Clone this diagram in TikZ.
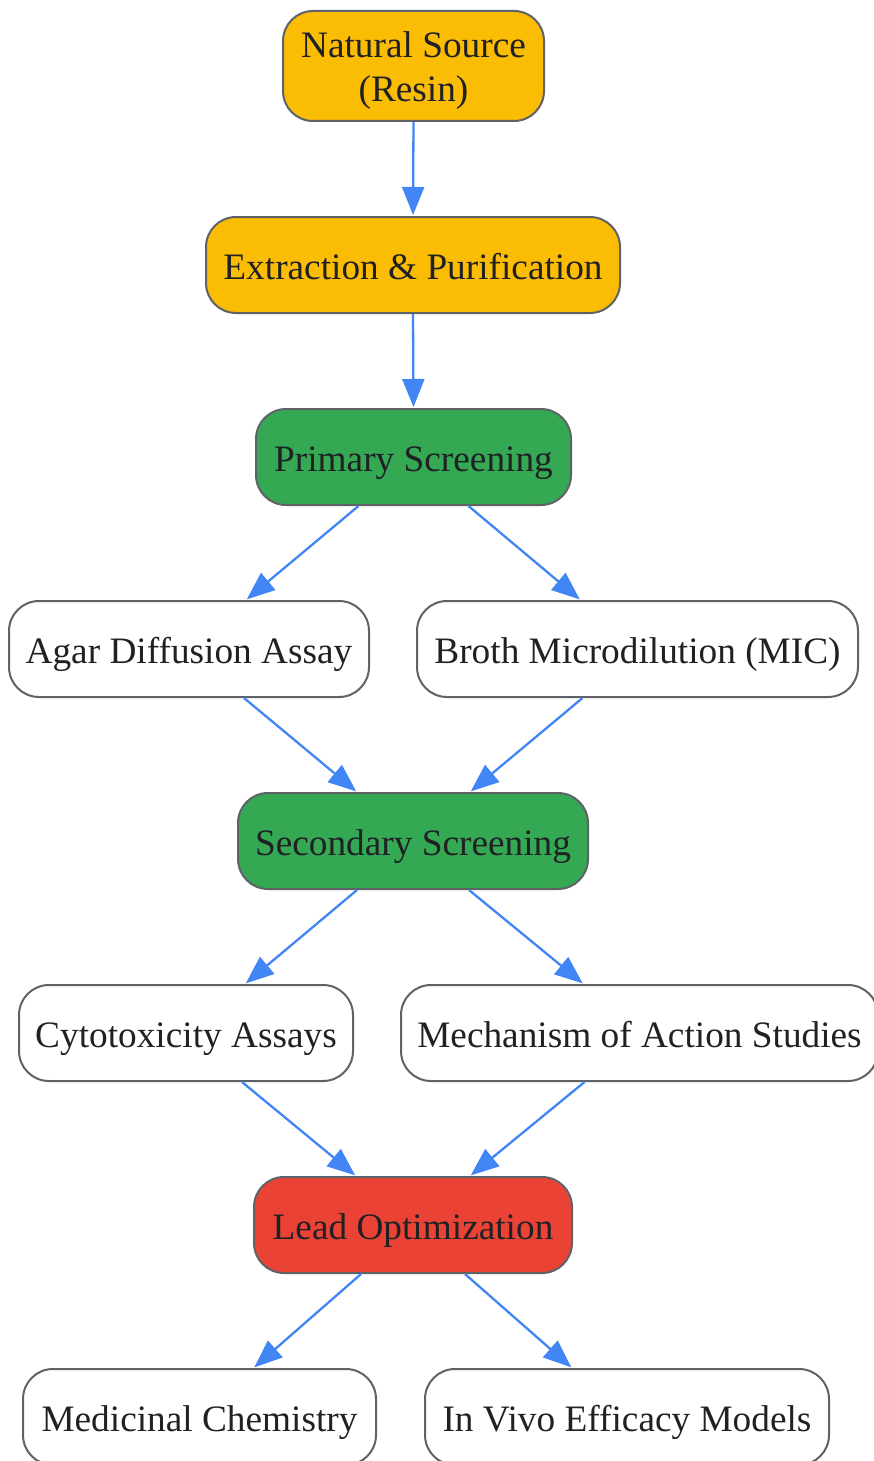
\documentclass[tikz,border=0pt]{standalone}
\usepackage{fontspec}
\setmainfont{Liberation Serif}
\usetikzlibrary{arrows.meta}
\definecolor{gyellow}{HTML}{FBBC04}
\definecolor{ggreen}{HTML}{34A853}
\definecolor{gred}{HTML}{EA4335}
\definecolor{gborder}{HTML}{5F6368}
\definecolor{gtext}{HTML}{202124}
\definecolor{garrow}{HTML}{4285F4}
\tikzset{
  box/.style={draw=gborder, line width=2pt, rounded corners=30pt, minimum height=96pt,
    inner sep=0pt, align=center, text=gtext, text height=29pt, text depth=0pt,
    font=\fontsize{37.3}{44}\selectfont},
  yellowbox/.style={box, fill=gyellow},
  greenbox/.style={box, fill=ggreen},
  redbox/.style={box, fill=gred},
  whitebox/.style={box, fill=white},
  conn/.style={draw=garrow, line width=2.3pt, -{Triangle[length=28pt,width=22pt]}, shorten >=1pt}
}
\begin{document}
\begin{tikzpicture}[x=1pt,y=-1pt]
\useasboundingbox[fill=white] (0,0) rectangle (873,1461);
\node[yellowbox, minimum width=261pt, minimum height=110pt, text height=72pt] (nat) at (413.5,66) {Natural Source\\(Resin)};
\node[yellowbox, minimum width=414pt] (ext) at (413,265) {Extraction \& Purification};
\node[greenbox, minimum width=315pt] (prim) at (413.5,457) {Primary Screening};
\node[whitebox, minimum width=360pt] (agar) at (189,649) {Agar Diffusion Assay};
\node[whitebox, minimum width=441pt] (broth) at (637.5,649) {Broth Microdilution (MIC)};
\node[greenbox, minimum width=350pt] (sec) at (413,841) {Secondary Screening};
\node[whitebox, minimum width=334pt] (cyto) at (186,1033) {Cytotoxicity Assays};
\node[whitebox, minimum width=477pt] (mech) at (639.5,1033) {Mechanism of Action Studies};
\node[redbox, minimum width=318pt] (lead) at (413,1225) {Lead Optimization};
\node[whitebox, minimum width=353pt] (med) at (199.5,1417) {Medicinal Chemistry};
\node[whitebox, minimum width=404pt] (vivo) at (627,1417) {In Vivo Efficacy Models};

\draw[conn] (nat.south) -- (ext.north);
\draw[conn] (ext.south) -- (prim.north);
\draw[conn] ([xshift=-55pt]prim.south) -- ([xshift=57pt]agar.north);
\draw[conn] ([xshift=55pt]prim.south) -- ([xshift=-57pt]broth.north);
\draw[conn] ([xshift=55pt]agar.south) -- ([xshift=-56pt]sec.north);
\draw[conn] ([xshift=-55pt]broth.south) -- ([xshift=57pt]sec.north);
\draw[conn] ([xshift=-56pt]sec.south) -- ([xshift=59pt]cyto.north);
\draw[conn] ([xshift=56pt]sec.south) -- ([xshift=-56pt]mech.north);
\draw[conn] ([xshift=56pt]cyto.south) -- ([xshift=-57pt]lead.north);
\draw[conn] ([xshift=-55pt]mech.south) -- ([xshift=57pt]lead.north);
\draw[conn] ([xshift=-52pt]lead.south) -- ([xshift=54pt]med.north);
\draw[conn] ([xshift=52pt]lead.south) -- ([xshift=-55pt]vivo.north);
\end{tikzpicture}
\end{document}
